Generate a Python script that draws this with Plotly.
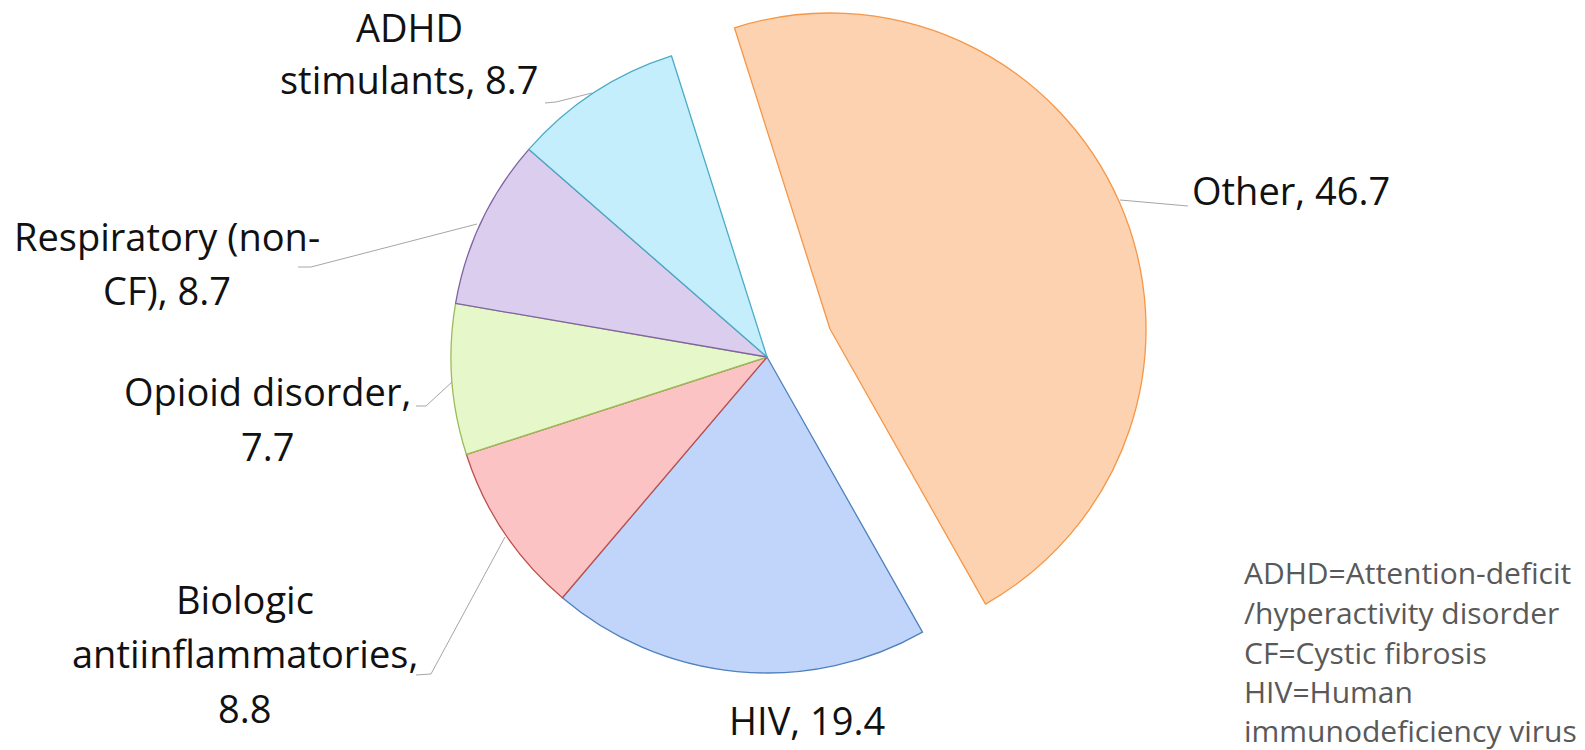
import plotly.graph_objects as go

# ---------------- data ----------------
categories = ["Other", "HIV", "Biologic antiinflammatories", "Opioid disorder",
              "Respiratory (non-CF)", "ADHD stimulants"]
values = [46.7, 19.4, 8.8, 7.7, 8.7, 8.7]
# label text templates (line breaks as in the reference)
label_lines = [
    ["Other, {v}"],
    ["HIV, {v}"],
    ["Biologic", "antiinflammatories,", "{v}"],
    ["Opioid disorder,", "{v}"],
    ["Respiratory (non-", "CF), {v}"],
    ["ADHD", "stimulants, {v}"],
]
footnote_lines = [
    "ADHD=Attention-deficit",
    "/hyperactivity disorder",
    "CF=Cystic fibrosis",
    "HIV=Human",
    "immunodeficiency virus",
]

# ---------------- style ----------------
OFF = 8                      # page body margin of the browser
W, H = 1585 - OFF, 750 - OFF  # figure fits the window inside the margin
fill_colors = ["#FCD2B0", "#C0D5F9", "#FBC3C3", "#E6F8C9", "#DBCDEE", "#C4EEFB"]
line_colors = ["#F79646", "#4F81BD", "#C0504D", "#9BBB59", "#8064A2", "#4BACC6"]
FONT = "'Open Sans', Lato, sans-serif"
LABEL_SIZE = 38
NOTE_SIZE = 30

R = 316                    # pie radius in px
center = (767, 357)        # pie centre in window px
pull_offset = (63, -28)    # displacement of the exploded "Other" slice in px

# label layout (window px): centre x and baselines of each line, per category
label_pos = [
    (1291, [204]),
    (807, [734]),
    (245, [613, 667, 722]),
    (267, [405, 460]),
    (167, [250, 304]),
    (409, [41, 93]),
]
leaders = [
    [(1120, 200), (1188, 206)],
    None,
    [(416, 675), (431, 674), (505, 537)],
    [(416, 406), (426, 406), (452, 382)],
    [(298, 267), (311, 267), (477, 224)],
    [(545, 103), (556, 102), (592, 93)],
]
note_x = 1242
note_baselines = [583, 623, 663, 702, 741]


def px(x, y):
    return (x - OFF) / W, 1 - (y - OFF) / H


def domain_for(cx, cy):
    hx = R / W
    hy = R / H
    xp, yp = px(cx, cy)
    return dict(x=[xp - hx, xp + hx], y=[yp - hy, yp + hy])


transparent = "rgba(0,0,0,0)"
start_angle = -17.6  # first slice (Other) starts here, clockwise

# main pie (all slices except the exploded one)
colors1 = [transparent] + fill_colors[1:]
lcol1 = [transparent] + line_colors[1:]
lw1 = [0] + [1.3] * (len(values) - 1)

# exploded slice only
colors2 = [fill_colors[0]] + [transparent] * (len(values) - 1)
lcol2 = [line_colors[0]] + [transparent] * (len(values) - 1)
lw2 = [1.3] + [0] * (len(values) - 1)

fig = go.Figure()
fig.add_trace(go.Pie(
    labels=categories, values=values, sort=False, direction="clockwise",
    rotation=start_angle, textinfo="none", hoverinfo="label+value",
    marker=dict(colors=colors1, line=dict(color=lcol1, width=lw1)),
    domain=domain_for(*center), showlegend=False,
))
fig.add_trace(go.Pie(
    labels=categories, values=values, sort=False, direction="clockwise",
    rotation=start_angle, textinfo="none", hoverinfo="label+value",
    marker=dict(colors=colors2, line=dict(color=lcol2, width=lw2)),
    domain=domain_for(center[0] + pull_offset[0], center[1] + pull_offset[1]),
    showlegend=False,
))

annotations = []
for lines, v, (lx, baselines) in zip(label_lines, values, label_pos):
    for t, b in zip(lines, baselines):
        xp, yp = px(lx, b - 0.36 * LABEL_SIZE)
        annotations.append(dict(
            text=t.format(v=v), x=xp, y=yp, xref="paper", yref="paper",
            xanchor="center", yanchor="middle", showarrow=False,
            font=dict(family=FONT, size=LABEL_SIZE, color="#111111"),
        ))
for t, b in zip(footnote_lines, note_baselines):
    xp, yp = px(note_x, b - 0.36 * NOTE_SIZE)
    annotations.append(dict(
        text=t, x=xp, y=yp, xref="paper", yref="paper",
        xanchor="left", yanchor="middle", showarrow=False,
        font=dict(family=FONT, size=NOTE_SIZE, color="#595959"),
    ))

shapes = []
for pts in leaders:
    if not pts:
        continue
    path = "M " + " L ".join(f"{px(x, y)[0]:.5f},{px(x, y)[1]:.5f}" for x, y in pts)
    shapes.append(dict(type="path", path=path, xref="paper", yref="paper",
                       line=dict(color="#A6A6A6", width=1)))

fig.update_layout(
    width=W, height=H,
    margin=dict(l=0, r=0, t=0, b=0),
    paper_bgcolor="white", plot_bgcolor="white",
    annotations=annotations, shapes=shapes,
)

fig.write_html("out.html")
